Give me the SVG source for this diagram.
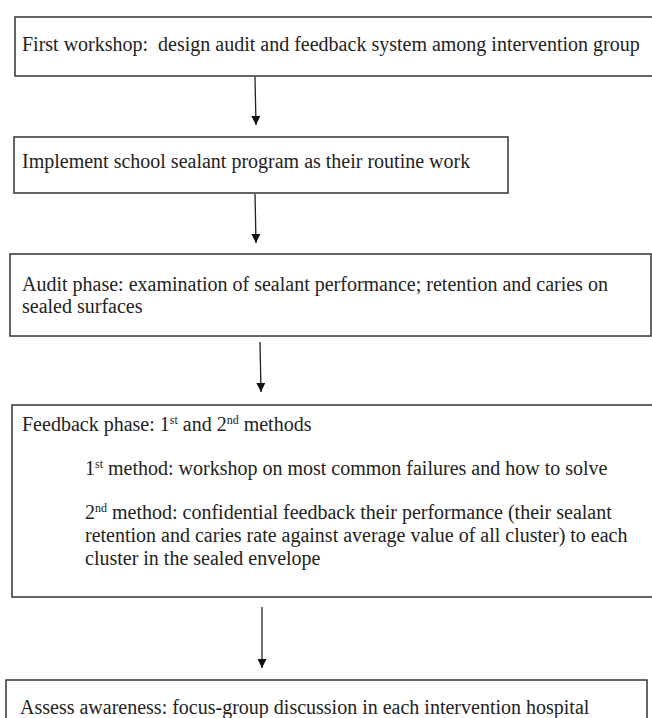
<svg xmlns="http://www.w3.org/2000/svg" width="652" height="718" viewBox="0 0 652 718">
<style>
.box{fill:#fff;stroke:#333;stroke-width:1.5}
.t{font-family:"Liberation Serif","DejaVu Serif",serif;font-size:20px;fill:#222}
.c{stroke:#222;stroke-width:1.3;fill:none}
.sup{font-size:12px}
</style>
<defs>
<marker id="ah" viewBox="0 0 10 10" refX="10" refY="5" markerWidth="9" markerHeight="9" markerUnits="userSpaceOnUse" orient="auto">
<path d="M0,0 L10,5 L0,10 z" fill="#111"/>
</marker>
</defs>
<rect width="652" height="718" fill="#fff"/>
<g id="connectors">
<line class="c" x1="255" y1="77" x2="256" y2="125" marker-end="url(#ah)"/>
<line class="c" x1="255" y1="194" x2="256" y2="243" marker-end="url(#ah)"/>
<line class="c" x1="260" y1="342" x2="261" y2="392" marker-end="url(#ah)"/>
<line class="c" x1="262" y1="607" x2="262" y2="668" marker-end="url(#ah)"/>
</g>
<g id="node1">
<rect class="box" x="15" y="17" width="645" height="59"/>
<text class="t" x="22" y="51" xml:space="preserve">First workshop:  design audit and feedback system among intervention group</text>
</g>
<g id="node2">
<rect class="box" x="14" y="137" width="494" height="56"/>
<text class="t" x="22" y="168">Implement school sealant program as their routine work</text>
</g>
<g id="node3">
<rect class="box" x="10" y="254" width="641" height="82"/>
<text class="t" x="22" y="291">Audit phase: examination of sealant performance; retention and caries on</text>
<text class="t" x="22" y="313">sealed surfaces</text>
</g>
<g id="node4">
<rect class="box" x="12" y="405" width="650" height="192"/>
<text class="t" x="22" y="431">Feedback phase: 1<tspan class="sup" dy="-7">st</tspan><tspan dy="7"> and 2</tspan><tspan class="sup" dy="-7">nd</tspan><tspan dy="7"> methods</tspan></text>
<text class="t" x="85" y="475">1<tspan class="sup" dy="-7">st</tspan><tspan dy="7"> method: workshop on most common failures and how to solve</tspan></text>
<text class="t" x="85" y="519">2<tspan class="sup" dy="-7">nd</tspan><tspan dy="7"> method: confidential feedback their performance (their sealant</tspan></text>
<text class="t" x="85" y="542">retention and caries rate against average value of all cluster) to each</text>
<text class="t" x="85" y="565">cluster in the sealed envelope</text>
</g>
<g id="node5">
<rect class="box" x="6" y="680" width="641" height="50"/>
<text class="t" x="20" y="714">Assess awareness: focus-group discussion in each intervention hospital</text>
</g>
</svg>
